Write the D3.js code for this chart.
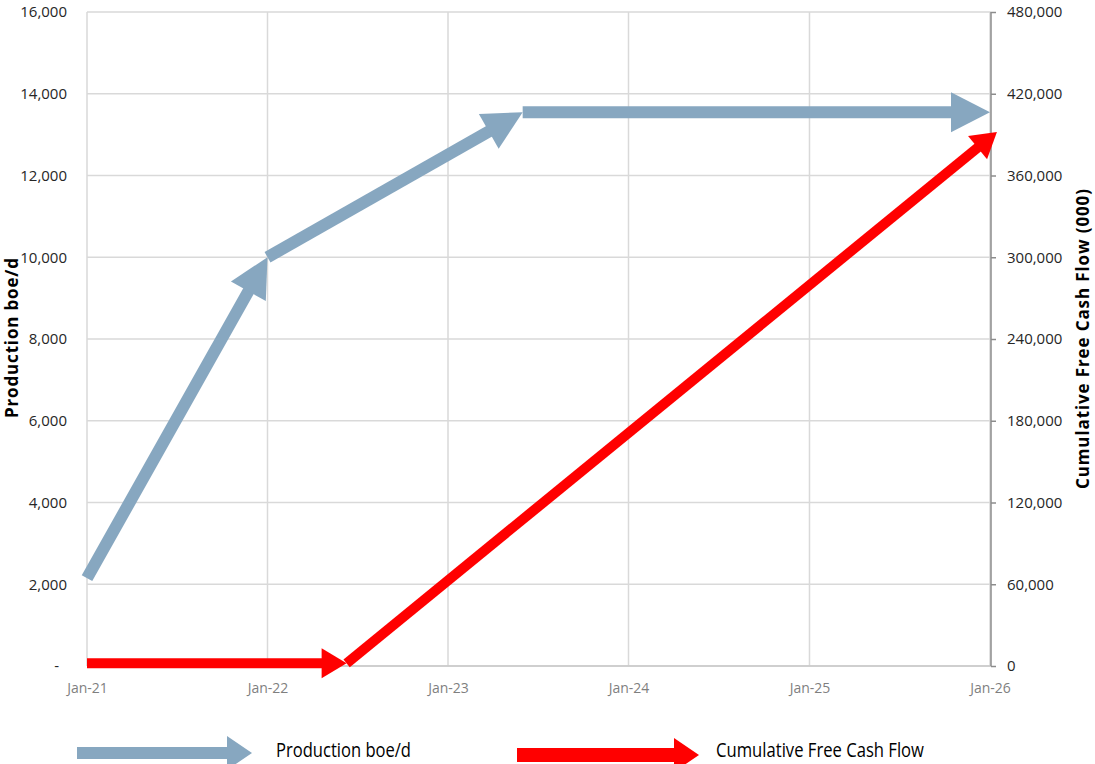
<!DOCTYPE html>
<html>
<head>
<meta charset="utf-8">
<script src="https://cdn.jsdelivr.net/npm/d3@7"></script>
<style>
  html, body { margin: 0; padding: 0; background: #fff; }
  svg { display: block; font-family: "Open Sans", "Noto Sans", sans-serif; }
</style>
</head>
<body>
<div id="chart"></div>
<script>
// --- data ---
const yearTicks = ["2021-01-01", "2022-01-01", "2023-01-01", "2024-01-01", "2025-01-01", "2026-01-01"];
const prodDates = ["2021-01-01", "2022-01-01", "2023-06-01", "2026-01-01"];
const prodValues = [2150, 10000, 13550, 13550];
const cashDates = ["2021-01-01", "2022-06-10", "2026-01-15"];
const cashValues = [2000, 2000, 392000];
const leftTicks = [0, 2000, 4000, 6000, 8000, 10000, 12000, 14000, 16000];
const rightTicks = [0, 60000, 120000, 180000, 240000, 300000, 360000, 420000, 480000];
const legendItems = ["Production boe/d", "Cumulative Free Cash Flow"];

const W = 1095, H = 764;
const plot = { left: 87, right: 990, top: 12, bottom: 666 };
const BLUE = "#87a7c0", RED = "#ff0000";
const FONT = '"Open Sans", "Noto Sans", sans-serif';
const parse = d3.timeParse("%Y-%m-%d");

const svg = d3.select("#chart").append("svg")
  .attr("width", W).attr("height", H)
  .attr("viewBox", [0, 0, W, H]);

const x = d3.scaleTime()
  .domain([parse(yearTicks[0]), parse(yearTicks[yearTicks.length - 1])])
  .range([plot.left, plot.right]);
const yL = d3.scaleLinear().domain([0, 16000]).range([plot.bottom, plot.top]);
const yR = d3.scaleLinear().domain([0, 480000]).range([plot.bottom, plot.top]);

// gridlines
const grid = svg.append("g").attr("stroke", "#d9d9d9").attr("stroke-width", 1.5);
grid.selectAll(".h").data(leftTicks).join("line")
  .attr("x1", plot.left).attr("x2", plot.right + 1)
  .attr("y1", d => yL(d)).attr("y2", d => yL(d));
grid.selectAll(".v").data(yearTicks).join("line")
  .attr("x1", d => x(parse(d))).attr("x2", d => x(parse(d)))
  .attr("y1", plot.top).attr("y2", plot.bottom);

// bottom line a little darker
svg.append("line")
  .attr("x1", plot.left).attr("x2", plot.right + 1)
  .attr("y1", plot.bottom).attr("y2", plot.bottom)
  .attr("stroke", "#c8c8c8").attr("stroke-width", 1.5);

// left axis
const gL = svg.append("g")
  .attr("transform", `translate(${plot.left},0)`)
  .call(d3.axisLeft(yL).tickValues(leftTicks).tickSize(0).tickPadding(20)
    .tickFormat(d => d === 0 ? "-" : d3.format(",")(d)));
gL.select(".domain").remove();
gL.attr("font-family", FONT);
gL.selectAll("text")
  .attr("font-size", 15).attr("fill", "#262626")
  .attr("dx", d => d === 0 ? -8 : 0);

// right axis
const gR = svg.append("g")
  .attr("transform", `translate(${plot.right + 1},0)`)
  .call(d3.axisRight(yR).tickValues(rightTicks).tickSize(5).tickPadding(11)
    .tickFormat(d3.format(",")));
gR.attr("font-family", FONT);
gR.select(".domain").attr("stroke", "#8c8c8c").attr("stroke-width", 1.5)
  .attr("d", `M0,${plot.top}V${plot.bottom}`);
gR.selectAll(".tick line").attr("stroke", "#8c8c8c").attr("stroke-width", 1.5);
gR.selectAll("text").attr("font-size", 15).attr("fill", "#262626");

// bottom axis
const gB = svg.append("g")
  .attr("transform", `translate(0,${plot.bottom})`)
  .call(d3.axisBottom(x).tickValues(yearTicks.map(parse)).tickSize(0).tickPadding(17)
    .tickFormat(d3.timeFormat("%b-%y")));
gB.attr("font-family", FONT);
gB.select(".domain").remove();
gB.selectAll("text").attr("font-size", 14).attr("fill", "#7f7f7f");

// axis titles
svg.append("text")
  .attr("transform", `translate(18,338) rotate(-90)`)
  .attr("text-anchor", "middle")
  .attr("font-size", 17).attr("font-weight", "bold").attr("fill", "#000")
  .attr("textLength", 160)
  .text("Production boe/d");
svg.append("text")
  .attr("transform", `translate(1089,339) rotate(-90)`)
  .attr("text-anchor", "middle")
  .attr("font-size", 17).attr("font-weight", "bold").attr("fill", "#000")
  .attr("textLength", 300)
  .text("Cumulative Free Cash Flow (000)");

// arrow: shaft + triangular head, tip sits on the end point
function arrow(g, p0, p1, color, width, headLen, headHalf) {
  const dx = p1[0] - p0[0], dy = p1[1] - p0[1];
  const len = Math.hypot(dx, dy);
  const ux = dx / len, uy = dy / len;
  const bx = p1[0] - ux * headLen, by = p1[1] - uy * headLen;
  g.append("line")
    .attr("x1", p0[0]).attr("y1", p0[1])
    .attr("x2", bx + ux).attr("y2", by + uy)
    .attr("stroke", color).attr("stroke-width", width);
  g.append("path")
    .attr("d", `M${p1[0]},${p1[1]}L${bx - uy * headHalf},${by + ux * headHalf}L${bx + uy * headHalf},${by - ux * headHalf}Z`)
    .attr("fill", color);
}

const series = svg.append("g");
const prodPts = prodDates.map((d, i) => [x(parse(d)), yL(prodValues[i])]);
const cashPts = cashDates.map((d, i) => [x(parse(d)), yR(cashValues[i])]);
for (let i = 1; i < cashPts.length; i++) arrow(series, cashPts[i - 1], cashPts[i], RED, 10, 25, 15);
for (let i = 1; i < prodPts.length; i++) arrow(series, prodPts[i - 1], prodPts[i], BLUE, 12, 39, 20);

// legend
const legend = svg.append("g");
const legendLayout = [
  { x0: 77, x1: 252, y: 753, color: BLUE, w: 12, tx: 276, tw: 135 },
  { x0: 517, x1: 699, y: 755, color: RED, w: 14, tx: 716, tw: 208 }
];
legendLayout.forEach((l, i) => {
  arrow(legend, [l.x0, l.y], [l.x1, l.y], l.color, l.w, 25, 17);
  legend.append("text")
    .attr("x", l.tx).attr("y", 757)
    .attr("font-size", 20).attr("fill", "#000")
    .attr("textLength", l.tw).attr("lengthAdjust", "spacingAndGlyphs")
    .text(legendItems[i]);
});
</script>
</body>
</html>
